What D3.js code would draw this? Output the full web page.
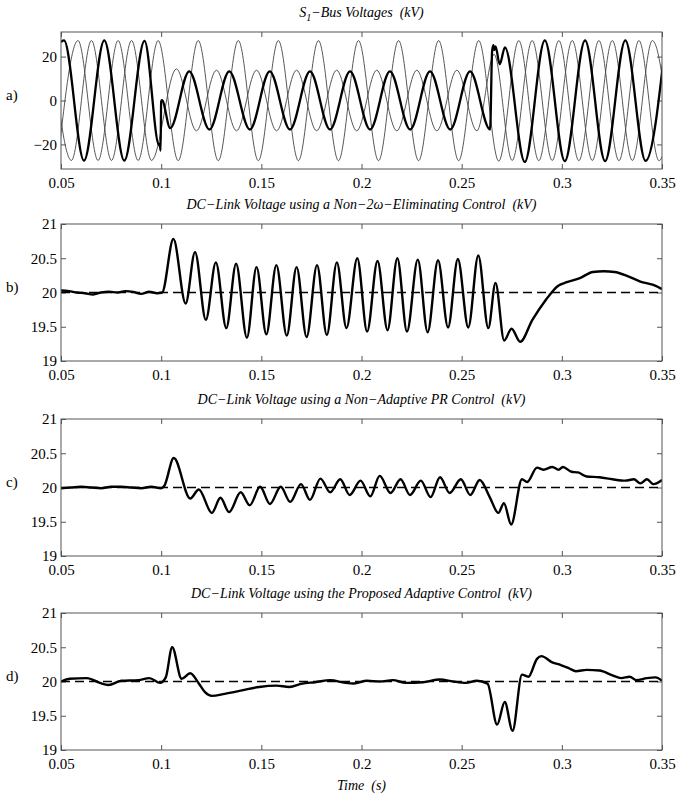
<!DOCTYPE html>
<html>
<head>
<meta charset="utf-8">
<script src="https://cdnjs.cloudflare.com/ajax/libs/d3/7.8.5/d3.min.js"></script>
<style>
  body { margin: 0; background: #fff; }
  svg text { font-family: "Liberation Serif", "Times New Roman", serif; fill: #000; white-space: pre; }
  .title, .xlabel { font-style: italic; font-size: 14px; }
  .tick line { stroke: #555; }
  .frame { fill: none; stroke: #555; stroke-width: 1; }
</style>
</head>
<body>
<div id="chart"></div>
<script>
// ---- data ----
var timeTicks = [0.05, 0.1, 0.15, 0.2, 0.25, 0.3, 0.35];
var timeLabels = ["0.05", "0.1", "0.15", "0.2", "0.25", "0.3", "0.35"];
var busTicks = [-20, 0, 20];
var busLabels = ["\u221220", "0", "20"];
var dcTicks = [19, 19.5, 20, 20.5, 21];
var dcLabels = ["19", "19.5", "20", "20.5", "21"];
var dcRef = 20;
var panelLetters = ["a)", "b)", "c)", "d)"];
var panelTitles = [
  "",
  "DC\u2212Link Voltage using a Non\u22122\u03c9\u2212Eliminating Control  (kV)",
  "DC\u2212Link Voltage using a Non\u2212Adaptive PR Control  (kV)",
  "DC\u2212Link Voltage using the Proposed Adaptive Control  (kV)"
];

// S1 bus phase voltages (kV): extrema [t, v]
var phaseA = [[0.0500,26.6],[0.0515,27.4],[0.0615,-27.4],[0.0716,27.4],[0.0816,-27.4],[0.0917,27.2],
  [0.0990,-20.5],[0.0993,-19.5],[0.0997,-22.8],[0.1000,-0.5],[0.1004,0.2],[0.1045,-12.6],
  [0.1140,13.3],[0.1241,-13.2],[0.1340,13.3],[0.1443,-13.2],[0.1542,13.3],[0.1643,-13.2],
  [0.1743,13.3],[0.1843,-13.2],[0.1943,13.3],[0.2043,-13.2],[0.2142,13.3],[0.2243,-13.2],
  [0.2342,13.3],[0.2443,-13.2],[0.2542,13.3],[0.2642,-13.2],[0.2652,22.5],[0.2658,25.2],
  [0.2663,23.0],[0.2669,24.6],[0.2690,16.5],[0.2716,24.2],[0.2815,-28.0],[0.2915,27.4],
  [0.3015,-27.6],[0.3116,27.4],[0.3216,-27.6],[0.3317,27.4],[0.3418,-27.5],[0.3518,27.4]];
var phaseB = [[0.0485,-27.3],[0.0585,27.3],[0.0685,-27.3],[0.0785,27.3],[0.0885,-27.3],[0.0985,27.3],
  [0.1085,-27.4],[0.1185,27.3],[0.1285,-27.4],[0.1385,27.3],[0.1485,-27.4],[0.1585,27.3],
  [0.1685,-27.4],[0.1785,27.3],[0.1885,-27.4],[0.1985,27.3],[0.2085,-27.4],[0.2185,27.3],
  [0.2285,-27.4],[0.2385,27.3],[0.2485,-27.4],[0.2585,27.3],[0.2685,-27.6],[0.2785,27.3],
  [0.2885,-27.4],[0.2985,27.3],[0.3085,-27.4],[0.3185,27.3],[0.3285,-27.4],[0.3385,27.3],
  [0.3485,-27.4],[0.3585,27.3]];
var phaseC = [[0.0452,27.3],[0.0552,-27.3],[0.0652,27.3],[0.0752,-27.3],[0.0852,27.3],[0.0952,-27.3],
  [0.1076,14.4],[0.1176,-13.8],[0.1276,13.8],[0.1376,-13.8],[0.1476,13.8],[0.1576,-13.8],
  [0.1676,13.8],[0.1776,-13.8],[0.1876,13.8],[0.1976,-13.8],[0.2076,13.8],[0.2176,-13.8],
  [0.2276,13.8],[0.2376,-13.8],[0.2476,13.8],[0.2576,-13.8],[0.2662,21.0],[0.2752,-27.3],
  [0.2852,27.3],[0.2952,-27.3],[0.3052,27.3],[0.3152,-27.3],[0.3252,27.3],[0.3352,-27.3],
  [0.3452,27.3],[0.3552,-27.3]];

// DC-link voltage (kV)
var dcNonElim = [[0.050,20.03],[0.054,20.02],[0.058,20.0],[0.062,19.99],[0.066,19.97],[0.070,20.0],
  [0.074,20.01],[0.078,20.0],[0.082,20.02],[0.086,20.01],[0.090,19.98],[0.094,20.01],[0.098,19.99],
  [0.1005,20.0],[0.1061,20.78],[0.1122,19.84],[0.1169,20.59],[0.1223,19.6],[0.1273,20.44],
  [0.1325,19.48],[0.1374,20.42],[0.1428,19.34],[0.1476,20.37],[0.1525,19.39],[0.1575,20.4],
  [0.1627,19.37],[0.1676,20.37],[0.1726,19.35],[0.1778,20.4],[0.1827,19.38],[0.1877,20.44],
  [0.1925,19.48],[0.1979,20.5],[0.2028,19.43],[0.208,20.46],[0.213,19.45],[0.2179,20.5],
  [0.2227,19.43],[0.2281,20.48],[0.233,19.42],[0.2382,20.47],[0.2432,19.49],[0.2481,20.49],
  [0.2533,19.49],[0.2583,20.54],[0.2633,19.48],[0.2669,20.14],[0.2712,19.3],[0.2749,19.47],
  [0.2792,19.28],[0.2853,19.6],[0.2917,19.88],[0.2982,20.1],[0.3025,20.15],[0.309,20.21],
  [0.3155,20.3],[0.3209,20.31],[0.3263,20.3],[0.3328,20.24],[0.3392,20.16],[0.3457,20.11],[0.35,20.05]];
var dcNonAdaptive = [[0.05,19.99],[0.055,20.0],[0.06,20.01],[0.065,20.0],[0.07,19.99],[0.075,20.01],
  [0.08,20.01],[0.085,20.0],[0.09,19.99],[0.095,20.01],[0.1,19.99],[0.1015,20.02],[0.1063,20.43],
  [0.1145,19.84],[0.1188,19.97],[0.1253,19.63],[0.1296,19.85],[0.1339,19.64],[0.1397,19.93],
  [0.1442,19.74],[0.1494,20.01],[0.1543,19.76],[0.1597,20.01],[0.1644,19.79],[0.1698,20.05],
  [0.1743,19.82],[0.1795,20.13],[0.1844,19.93],[0.1894,20.12],[0.1941,19.89],[0.1995,20.1],
  [0.2044,19.87],[0.2091,20.17],[0.2145,19.92],[0.2195,20.12],[0.2242,19.89],[0.2296,20.1],
  [0.2345,19.86],[0.2392,20.15],[0.244,19.92],[0.2496,20.12],[0.2543,19.89],[0.259,20.11],
  [0.264,19.86],[0.2683,19.63],[0.2711,19.77],[0.2747,19.46],[0.2801,20.12],[0.2827,20.08],
  [0.2876,20.29],[0.2908,20.26],[0.2952,20.3],[0.2984,20.26],[0.3005,20.3],[0.3048,20.23],
  [0.3081,20.22],[0.3124,20.16],[0.3188,20.15],[0.3253,20.12],[0.3317,20.1],[0.336,20.12],
  [0.3392,20.06],[0.3425,20.12],[0.3457,20.05],[0.35,20.11]];
var dcAdaptive = [[0.05,20.0],[0.0543,20.04],[0.0629,20.05],[0.0694,19.98],[0.0737,19.95],[0.0801,20.01],
  [0.0887,20.02],[0.0941,20.05],[0.0995,19.98],[0.1023,20.06],[0.1055,20.5],[0.1102,20.04],
  [0.1145,20.12],[0.1188,19.97],[0.122,19.84],[0.1253,19.79],[0.1317,19.82],[0.1403,19.87],
  [0.1489,19.92],[0.1575,19.94],[0.164,19.92],[0.1704,19.97],[0.1769,19.99],[0.1844,20.02],
  [0.1919,19.98],[0.1962,19.97],[0.2027,20.01],[0.2091,20.0],[0.2156,20.02],[0.2221,19.98],
  [0.2306,19.99],[0.2392,20.03],[0.2457,20.0],[0.2522,19.98],[0.2575,20.01],[0.2629,19.97],
  [0.2677,19.37],[0.2715,19.7],[0.2754,19.28],[0.2801,20.1],[0.2833,20.07],[0.2876,20.33],
  [0.2898,20.37],[0.2952,20.28],[0.2995,20.24],[0.3038,20.19],[0.307,20.15],[0.3124,20.17],
  [0.3188,20.16],[0.3253,20.09],[0.3296,20.05],[0.3339,20.07],[0.3371,20.02],[0.3425,20.05],
  [0.3468,20.06],[0.35,20.01]];

// ---- layout ----
var W = 676, H = 800;
var left = 61, right = 662, panelH = 137;
var panelTops = [32, 224, 419, 613];

var svg = d3.select("#chart").append("svg")
  .attr("width", W).attr("height", H)
  .attr("viewBox", "0 0 " + W + " " + H);

var x = d3.scaleLinear().domain([0.05, 0.35]).range([left, right]);

function drawPanel(i, yDomain, yTicks, yLabels, series) {
  var top = panelTops[i], bottom = top + panelH;
  var y = d3.scaleLinear().domain(yDomain).range([bottom, top]);
  var g = svg.append("g").attr("class", "panel");

  g.append("clipPath").attr("id", "clip" + i)
    .append("rect").attr("x", left).attr("y", top)
    .attr("width", right - left).attr("height", panelH);

  // axes with inward ticks, matlab style
  g.append("g").attr("transform", "translate(0," + bottom + ")")
    .call(d3.axisBottom(x).tickValues(timeTicks)
      .tickFormat(function(d, k) { return timeLabels[k]; })
      .tickSizeInner(-5).tickSizeOuter(0).tickPadding(8))
    .call(function(a) { a.select(".domain").remove(); });
  g.append("g").attr("transform", "translate(0," + top + ")")
    .call(d3.axisTop(x).tickValues(timeTicks).tickFormat("").tickSize(-5))
    .call(function(a) { a.select(".domain").remove(); });
  g.append("g").attr("transform", "translate(" + left + ",0)")
    .call(d3.axisLeft(y).tickValues(yTicks)
      .tickFormat(function(d, k) { return yLabels[k]; })
      .tickSizeInner(-5).tickSizeOuter(0).tickPadding(4))
    .call(function(a) { a.select(".domain").remove(); });
  g.append("g").attr("transform", "translate(" + right + ",0)")
    .call(d3.axisRight(y).tickValues(yTicks).tickFormat("").tickSize(-5))
    .call(function(a) { a.select(".domain").remove(); });

  g.selectAll(".tick text")
    .style("font-size", "15px")
    .style("font-family", "'Liberation Serif', serif")
    .attr("fill", "#000");

  var line = d3.line()
    .x(function(d) { return x(d[0]); })
    .y(function(d) { return y(d[1]); })
    .curve(d3.curveMonotoneX);

  var plot = g.append("g").attr("clip-path", "url(#clip" + i + ")");
  series.forEach(function(s) {
    if (s.ref != null) {
      plot.append("line")
        .attr("x1", left).attr("x2", right)
        .attr("y1", y(s.ref)).attr("y2", y(s.ref))
        .attr("stroke", "#000").attr("stroke-width", 1.4)
        .attr("stroke-dasharray", "9,5");
    } else {
      plot.append("path").datum(s.data)
        .attr("fill", "none")
        .attr("stroke", s.color)
        .attr("stroke-width", s.width)
        .attr("stroke-linejoin", "round")
        .attr("d", line);
    }
  });

  g.append("rect").attr("class", "frame")
    .attr("x", left).attr("y", top)
    .attr("width", right - left).attr("height", panelH);

  g.append("text")
    .attr("x", 6).attr("y", (top + bottom) / 2 - 1)
    .style("font-size", "15px")
    .text(panelLetters[i]);

  var t = g.append("text").attr("class", "title")
    .attr("x", (left + right) / 2).attr("y", top - 15)
    .attr("text-anchor", "middle");
  if (i === 0) {
    t.append("tspan").text("S");
    t.append("tspan").attr("dy", 4).style("font-size", "10px").text("1");
    t.append("tspan").attr("dy", -4).text("\u2212Bus Voltages  (kV)");
  } else {
    t.text(panelTitles[i]);
  }
}

drawPanel(0, [-31.2, 31.2], busTicks, busLabels, [
  { data: phaseB, color: "#444", width: 0.9 },
  { data: phaseC, color: "#444", width: 0.9 },
  { data: phaseA, color: "#000", width: 2.3 }
]);
drawPanel(1, [19, 21], dcTicks, dcLabels, [
  { ref: dcRef },
  { data: dcNonElim, color: "#000", width: 2.4 }
]);
drawPanel(2, [19, 21], dcTicks, dcLabels, [
  { ref: dcRef },
  { data: dcNonAdaptive, color: "#000", width: 2.4 }
]);
drawPanel(3, [19, 21], dcTicks, dcLabels, [
  { ref: dcRef },
  { data: dcAdaptive, color: "#000", width: 2.4 }
]);

svg.append("text").attr("class", "xlabel")
  .attr("x", (left + right) / 2).attr("y", 790)
  .attr("text-anchor", "middle")
  .text("Time  (s)");
</script>
</body>
</html>
